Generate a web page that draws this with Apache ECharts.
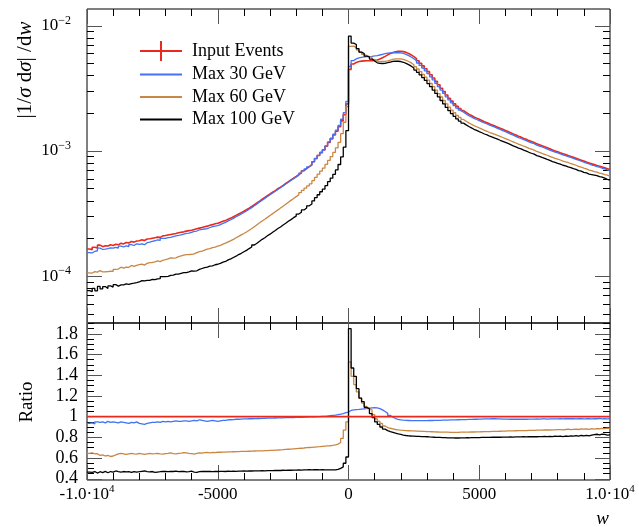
<!DOCTYPE html>
<html>
<head>
<meta charset="utf-8">
<script src="https://cdn.jsdelivr.net/npm/echarts@6/dist/echarts.min.js"></script>
<style>
html, body { margin: 0; padding: 0; background: #fff; }
#divChart { width: 639px; height: 527px; }
</style>
</head>
<body>
<div id="divChart"></div>
<script>
var xMin = -10000, xMax = 10000, binWidth = 100;
var seriesNames = ['Input Events', 'Max 30 GeV', 'Max 60 GeV', 'Max 100 GeV'];
var seriesColors = ['#e8291c', '#4272f5', '#c98743', '#000000'];
var yLogTicks = [1e-4, 1e-3, 1e-2];
var ratioTicks = [0.4, 0.6, 0.8, 1, 1.2, 1.4, 1.6, 1.8];

// input events, 1/sigma dsigma/dw per bin of 100
var inputEvents = [
    1.65e-4, 1.63e-4, 1.70e-4, 1.68e-4, 1.77e-4, 1.72e-4, 1.75e-4, 1.74e-4, 1.78e-4, 1.76e-4,
    1.80e-4, 1.78e-4, 1.83e-4, 1.81e-4, 1.86e-4, 1.84e-4, 1.89e-4, 1.87e-4, 1.91e-4, 1.92e-4,
    1.95e-4, 1.93e-4, 1.98e-4, 1.99e-4, 2.01e-4, 2.03e-4, 2.05e-4, 2.04e-4, 2.10e-4, 2.11e-4,
    2.13e-4, 2.15e-4, 2.17e-4, 2.19e-4, 2.22e-4, 2.24e-4, 2.26e-4, 2.29e-4, 2.31e-4, 2.33e-4,
    2.36e-4, 2.39e-4, 2.42e-4, 2.45e-4, 2.48e-4, 2.51e-4, 2.55e-4, 2.58e-4, 2.62e-4, 2.65e-4,
    2.69e-4, 2.74e-4, 2.79e-4, 2.85e-4, 2.91e-4, 2.98e-4, 3.06e-4, 3.14e-4, 3.22e-4, 3.30e-4,
    3.39e-4, 3.49e-4, 3.60e-4, 3.72e-4, 3.85e-4, 3.98e-4, 4.12e-4, 4.25e-4, 4.39e-4, 4.53e-4,
    4.68e-4, 4.83e-4, 4.99e-4, 5.15e-4, 5.32e-4, 5.50e-4, 5.68e-4, 5.87e-4, 6.06e-4, 6.25e-4,
    6.46e-4, 6.70e-4, 6.96e-4, 7.22e-4, 7.49e-4, 7.76e-4, 8.20e-4, 8.70e-4, 9.20e-4, 9.70e-4,
    10.2e-4, 10.9e-4, 11.7e-4, 12.5e-4, 13.4e-4, 14.4e-4, 15.6e-4, 17.4e-4, 19.5e-4, 23.8e-4,
    44.7e-4, 49.5e-4, 51.0e-4, 51.8e-4, 52.2e-4, 52.4e-4, 52.5e-4, 52.5e-4, 52.6e-4, 52.8e-4,
    53.3e-4, 54.2e-4, 55.5e-4, 57.0e-4, 58.6e-4, 60.0e-4, 61.2e-4, 62.0e-4, 62.5e-4, 62.6e-4,
    62.2e-4, 61.3e-4, 60.0e-4, 58.5e-4, 56.7e-4, 54.7e-4, 52.5e-4, 50.2e-4, 47.8e-4, 45.4e-4,
    43.0e-4, 40.6e-4, 38.3e-4, 36.0e-4, 33.8e-4, 31.7e-4, 29.8e-4, 28.0e-4, 26.4e-4, 25.0e-4,
    23.8e-4, 22.7e-4, 21.8e-4, 21.0e-4, 20.3e-4, 19.7e-4, 19.2e-4, 18.7e-4, 18.3e-4, 17.9e-4,
    17.5e-4, 17.1e-4, 16.8e-4, 16.4e-4, 16.1e-4, 15.8e-4, 15.5e-4, 15.2e-4, 14.9e-4, 14.6e-4,
    14.3e-4, 14.0e-4, 13.7e-4, 13.4e-4, 13.1e-4, 12.9e-4, 12.6e-4, 12.4e-4, 12.1e-4, 11.9e-4,
    11.7e-4, 11.4e-4, 11.2e-4, 11.0e-4, 10.8e-4, 10.6e-4, 10.4e-4, 10.2e-4, 10.0e-4, 9.85e-4,
    9.68e-4, 9.52e-4, 9.36e-4, 9.20e-4, 9.05e-4, 8.90e-4, 8.75e-4, 8.60e-4, 8.45e-4, 8.30e-4,
    8.15e-4, 8.02e-4, 7.89e-4, 7.78e-4, 7.66e-4, 7.55e-4, 7.44e-4, 7.33e-4, 7.22e-4, 7.10e-4
];

// ratio to input events, same bins
var ratio30 = [
    0.935, 0.94, 0.93, 0.95, 0.945, 0.95, 0.94, 0.955, 0.945, 0.95,
    0.945, 0.94, 0.95, 0.945, 0.94, 0.935, 0.945, 0.94, 0.95, 0.935,
    0.93, 0.925, 0.935, 0.94, 0.945, 0.945, 0.95, 0.945, 0.955, 0.95,
    0.955, 0.95, 0.955, 0.96, 0.955, 0.955, 0.96, 0.96, 0.955, 0.96,
    0.965, 0.96, 0.97, 0.965, 0.96, 0.955, 0.96, 0.965, 0.96, 0.955,
    0.96, 0.965, 0.965, 0.97, 0.97, 0.972, 0.975, 0.975, 0.977, 0.978,
    0.978, 0.98, 0.98, 0.981, 0.982, 0.982, 0.983, 0.984, 0.985, 0.986,
    0.986, 0.987, 0.988, 0.988, 0.989, 0.99, 0.99, 0.991, 0.992, 0.993,
    0.993, 0.994, 0.995, 0.996, 0.997, 0.998, 0.999, 1.0, 1.001, 1.002,
    1.003, 1.006, 1.009, 1.012, 1.015, 1.019, 1.024, 1.03, 1.038, 1.045,
    1.06, 1.065, 1.068, 1.07, 1.073, 1.076, 1.079, 1.082, 1.085, 1.087,
    1.085, 1.078, 1.066, 1.05, 1.032, 1.012, 0.995, 0.982, 0.974, 0.969,
    0.966, 0.964, 0.963, 0.962, 0.961, 0.961, 0.961, 0.961, 0.962, 0.962,
    0.963, 0.963, 0.964, 0.965, 0.965, 0.966, 0.967, 0.967, 0.968, 0.969,
    0.969, 0.97, 0.971, 0.972, 0.972, 0.973, 0.974, 0.975, 0.975, 0.976,
    0.977, 0.978, 0.978, 0.979, 0.98, 0.98, 0.979, 0.978, 0.977, 0.976,
    0.976, 0.975, 0.976, 0.975, 0.976, 0.975, 0.976, 0.975, 0.976, 0.977,
    0.977, 0.978, 0.977, 0.978, 0.978, 0.977, 0.978, 0.979, 0.978, 0.979,
    0.98, 0.979, 0.98, 0.98, 0.981, 0.98, 0.979, 0.981, 0.98, 0.979,
    0.98, 0.982, 0.979, 0.981, 0.98, 0.983, 0.978, 0.981, 0.979, 0.98
];
var ratio60 = [
    0.645, 0.65, 0.64, 0.642, 0.625, 0.63, 0.62, 0.625, 0.615, 0.62,
    0.63, 0.64, 0.645, 0.64, 0.635, 0.64, 0.645, 0.64, 0.638, 0.645,
    0.64, 0.635, 0.64, 0.645, 0.64, 0.642, 0.645, 0.64, 0.638, 0.642,
    0.645, 0.65, 0.643, 0.64, 0.646, 0.648, 0.652, 0.65, 0.645, 0.642,
    0.638, 0.645, 0.65, 0.648, 0.652, 0.655, 0.65, 0.654, 0.652, 0.656,
    0.656, 0.657, 0.658, 0.66, 0.66, 0.661, 0.662, 0.662, 0.664, 0.664,
    0.665, 0.666, 0.667, 0.668, 0.669, 0.67, 0.67, 0.671, 0.672, 0.674,
    0.675, 0.677, 0.678, 0.68, 0.681, 0.683, 0.685, 0.687, 0.689, 0.691,
    0.693, 0.695, 0.697, 0.7, 0.702, 0.704, 0.706, 0.708, 0.71, 0.713,
    0.715, 0.717, 0.719, 0.722, 0.727, 0.735, 0.75, 0.79, 0.87, 0.95,
    1.53, 1.39, 1.31, 1.24, 1.18, 1.13, 1.10, 1.08, 1.065, 1.02,
    0.98, 0.955, 0.935, 0.91, 0.895, 0.888, 0.882, 0.876, 0.872, 0.869,
    0.867, 0.865, 0.864, 0.863, 0.862, 0.861, 0.86, 0.858, 0.857, 0.856,
    0.855, 0.854, 0.853, 0.852, 0.851, 0.851, 0.85, 0.85, 0.849, 0.849,
    0.849, 0.849, 0.85, 0.85, 0.851, 0.851, 0.852, 0.852, 0.853, 0.853,
    0.854, 0.855, 0.855, 0.856, 0.857, 0.858, 0.858, 0.859, 0.86, 0.861,
    0.862, 0.862, 0.863, 0.864, 0.865, 0.865, 0.866, 0.866, 0.867, 0.868,
    0.868, 0.869, 0.87, 0.87, 0.871, 0.872, 0.871, 0.873, 0.872, 0.874,
    0.875, 0.873, 0.876, 0.88, 0.874, 0.877, 0.879, 0.876, 0.881, 0.879,
    0.882, 0.878, 0.884, 0.88, 0.885, 0.883, 0.887, 0.884, 0.889, 0.888
];
var ratio100 = [
    0.465, 0.462, 0.47, 0.455, 0.468, 0.46, 0.472, 0.458, 0.47, 0.465,
    0.475, 0.468, 0.465, 0.47, 0.466, 0.468, 0.462, 0.47, 0.465, 0.468,
    0.472, 0.475, 0.468, 0.466, 0.47, 0.462, 0.465, 0.468, 0.472, 0.47,
    0.468, 0.472, 0.47, 0.474, 0.468, 0.47, 0.472, 0.466, 0.468, 0.473,
    0.465, 0.462, 0.468, 0.47, 0.472, 0.47, 0.472, 0.469, 0.471, 0.47,
    0.471, 0.472, 0.47, 0.473, 0.472, 0.473, 0.472, 0.474, 0.473, 0.475,
    0.474, 0.476, 0.475, 0.477, 0.476, 0.477, 0.478, 0.477, 0.479, 0.478,
    0.479, 0.48, 0.481, 0.48, 0.482, 0.481, 0.483, 0.482, 0.484, 0.483,
    0.485, 0.484, 0.486, 0.485, 0.487, 0.486, 0.487, 0.487, 0.486, 0.487,
    0.486, 0.485, 0.486, 0.485, 0.486, 0.49, 0.5, 0.515, 0.55, 0.61,
    1.85, 1.47, 1.39, 1.27, 1.18, 1.145, 1.09, 1.075, 1.03, 0.99,
    0.95, 0.925, 0.9, 0.88, 0.865, 0.855, 0.848, 0.84, 0.833, 0.828,
    0.822, 0.818, 0.815, 0.813, 0.812, 0.81, 0.809, 0.808, 0.807, 0.806,
    0.804, 0.803, 0.801, 0.8, 0.799, 0.798, 0.797, 0.796, 0.795, 0.795,
    0.794, 0.794, 0.795, 0.795, 0.796, 0.796, 0.797, 0.797, 0.798, 0.798,
    0.799, 0.799, 0.8, 0.8, 0.801, 0.801, 0.802, 0.801, 0.802, 0.803,
    0.803, 0.804, 0.803, 0.804, 0.805, 0.805, 0.806, 0.805, 0.807, 0.806,
    0.807, 0.806, 0.808, 0.807, 0.809, 0.808, 0.81, 0.807, 0.811, 0.809,
    0.812, 0.808, 0.813, 0.81, 0.815, 0.812, 0.816, 0.811, 0.818, 0.814,
    0.82, 0.815, 0.822, 0.826, 0.83, 0.825, 0.832, 0.828, 0.822, 0.824
];

var myChart;
var fontName = 'Liberation Serif';

window.onload = function () {
    myChart = echarts.init(document.getElementById('divChart'), null, { renderer: 'canvas' });
    initChart();
};

function stepData(values) {
    var d = [];
    for (var i = 0; i < values.length; i++) {
        d.push([xMin + i * binWidth, values[i]]);
    }
    d.push([xMax, values[values.length - 1]]);
    return d;
}

function minorLogTicks() {
    var res = [];
    for (var e = -5; e <= -2; e++) {
        for (var k = 2; k <= 9; k++) {
            res.push(k * Math.pow(10, e));
        }
    }
    return res;
}

function minorRatioTicks() {
    var res = [];
    for (var v = 40; v <= 190; v += 5) {
        if (v % 20 != 0) res.push(v / 100);
    }
    return res;
}

function xAxisDef(gridIndex, position, showLabel) {
    return {
        type: 'value',
        gridIndex: gridIndex,
        position: position,
        min: xMin,
        max: xMax,
        interval: 5000,
        axisLine: { show: false, onZero: false },
        splitLine: { show: false },
        axisTick: { show: true, inside: true, length: 15, lineStyle: { color: '#555', width: 1 } },
        minorTick: { show: true, splitNumber: 5, length: 7, lineStyle: { color: '#000', width: 1 } },
        axisLabel: {
            show: showLabel,
            margin: 4,
            color: '#000',
            fontFamily: fontName,
            fontSize: 18,
            formatter: function (v) {
                if (v == xMin) return '{n|-1.0·10}{s|4}';
                if (v == xMax) return '{n|1.0·10}{s|4}';
                return '{n|' + v + '}';
            },
            rich: {
                n: { fontFamily: fontName, fontSize: 17, lineHeight: 22, color: '#000' },
                s: { fontFamily: fontName, fontSize: 11, lineHeight: 11, verticalAlign: 'top', color: '#000' }
            }
        }
    };
}

function logAxisDef(position, major) {
    return {
        type: 'log',
        logBase: 10,
        gridIndex: 0,
        position: position,
        min: Math.pow(10, -4.374),
        max: Math.pow(10, -1.866),
        axisLine: { show: false, onZero: false },
        splitLine: { show: false },
        minorTick: { show: false },
        axisTick: {
            show: true, inside: true,
            length: major ? 15 : 7,
            customValues: major ? yLogTicks : minorLogTicks(),
            lineStyle: { color: major ? '#555' : '#000', width: 1 }
        },
        axisLabel: {
            show: major && position == 'left',
            customValues: yLogTicks,
            margin: 16,
            formatter: function (v) {
                var e = Math.round(Math.log(v) / Math.LN10);
                return '{b|10}{s|' + String(e).replace('-', '\u2212') + '}';
            },
            rich: {
                b: { fontFamily: fontName, fontSize: 17, lineHeight: 22, color: '#000' },
                s: { fontFamily: fontName, fontSize: 12, lineHeight: 12, verticalAlign: 'top', color: '#000' }
            }
        }
    };
}

function ratioAxisDef(position, major) {
    return {
        type: 'value',
        gridIndex: 1,
        position: position,
        min: 0.388,
        max: 1.905,
        axisLine: { show: false, onZero: false },
        splitLine: { show: false },
        axisTick: {
            show: true, inside: true,
            length: major ? 15 : 7,
            customValues: major ? ratioTicks : minorRatioTicks(),
            lineStyle: { color: major ? '#555' : '#000', width: 1 }
        },
        axisLabel: {
            show: major && position == 'left',
            customValues: ratioTicks,
            margin: 9,
            color: '#000',
            fontFamily: fontName,
            fontSize: 18,
            formatter: function (v) { return String(v); }
        }
    };
}

function buildSeries() {
    var ratios = [null, ratio30, ratio60, ratio100];
    var result = [];
    for (var k = 0; k < seriesNames.length; k++) {
        var top = [], rat = [];
        for (var i = 0; i < inputEvents.length; i++) {
            var v = ratios[k] ? inputEvents[i] * ratios[k][i] : inputEvents[i];
            top.push(v);
            rat.push(v / inputEvents[i]);
        }
        result.push({
            name: seriesNames[k],
            type: 'line',
            step: 'end',
            xAxisIndex: 0,
            yAxisIndex: 0,
            data: stepData(top),
            color: seriesColors[k],
            showSymbol: false,
            symbol: 'none',
            lineStyle: { width: k == 0 ? 1.6 : 1.3, color: seriesColors[k] },
            z: 2 + k
        });
        result.push({
            name: seriesNames[k],
            type: 'line',
            step: 'end',
            xAxisIndex: 2,
            yAxisIndex: 4,
            data: stepData(rat),
            color: seriesColors[k],
            showSymbol: false,
            symbol: 'none',
            lineStyle: { width: k == 0 ? 1.8 : 1.3, color: seriesColors[k] },
            z: k == 0 ? 10 : 2 + k
        });
    }
    return result;
}

function initChart() {
    var lineIcon = 'path://M0,9 H42 V11 H0 Z';
    var crossIcon = 'path://M0,9 H42 V11 H0 Z M20,0 H22 V20 H20 Z';
    var option = {
        animation: false,
        backgroundColor: '#fff',
        grid: [
            { left: 87, right: 29, top: 9, height: 314, show: true, borderColor: '#000', borderWidth: 1, backgroundColor: 'transparent', outerBoundsMode: 'none' },
            { left: 87, right: 29, top: 323, height: 157, show: true, borderColor: '#000', borderWidth: 1, backgroundColor: 'transparent', outerBoundsMode: 'none' }
        ],
        legend: {
            orient: 'vertical',
            left: 140,
            top: 41,
            padding: 0,
            itemWidth: 42,
            itemHeight: 20,
            itemGap: 4.5,
            selectedMode: false,
            textStyle: { fontFamily: fontName, fontSize: 18, color: '#000', padding: [0, 0, 0, 5] },
            data: [
                { name: seriesNames[0], icon: crossIcon },
                { name: seriesNames[1], icon: lineIcon },
                { name: seriesNames[2], icon: lineIcon },
                { name: seriesNames[3], icon: lineIcon }
            ]
        },
        xAxis: [
            xAxisDef(0, 'bottom', false),
            xAxisDef(0, 'top', false),
            xAxisDef(1, 'bottom', true),
            xAxisDef(1, 'top', false)
        ],
        yAxis: [
            logAxisDef('left', true),
            logAxisDef('left', false),
            logAxisDef('right', true),
            logAxisDef('right', false),
            ratioAxisDef('left', true),
            ratioAxisDef('left', false),
            ratioAxisDef('right', true),
            ratioAxisDef('right', false)
        ],
        graphic: [
            {
                type: 'text', x: 25, y: 70, rotation: Math.PI / 2,
                style: {
                    text: '{n||1/}{i|σ}{n| d}{i|σ}{n|| /d}{i|w}',
                    align: 'center', verticalAlign: 'middle',
                    rich: {
                        n: { fontFamily: fontName, fontSize: 21, fill: '#000' },
                        i: { fontFamily: fontName, fontSize: 21, fontStyle: 'italic', fill: '#000' }
                    }
                }
            },
            {
                type: 'text', x: 27, y: 402, rotation: Math.PI / 2,
                style: { text: 'Ratio', font: '19px "' + fontName + '"', fill: '#000', align: 'center', verticalAlign: 'middle' }
            },
            {
                type: 'text', x: 609, y: 519,
                style: { text: 'w', font: 'italic 19px "' + fontName + '"', fill: '#000', align: 'right', verticalAlign: 'middle' }
            }
        ],
        series: buildSeries()
    };
    myChart.setOption(option);
}
</script>
</body>
</html>
